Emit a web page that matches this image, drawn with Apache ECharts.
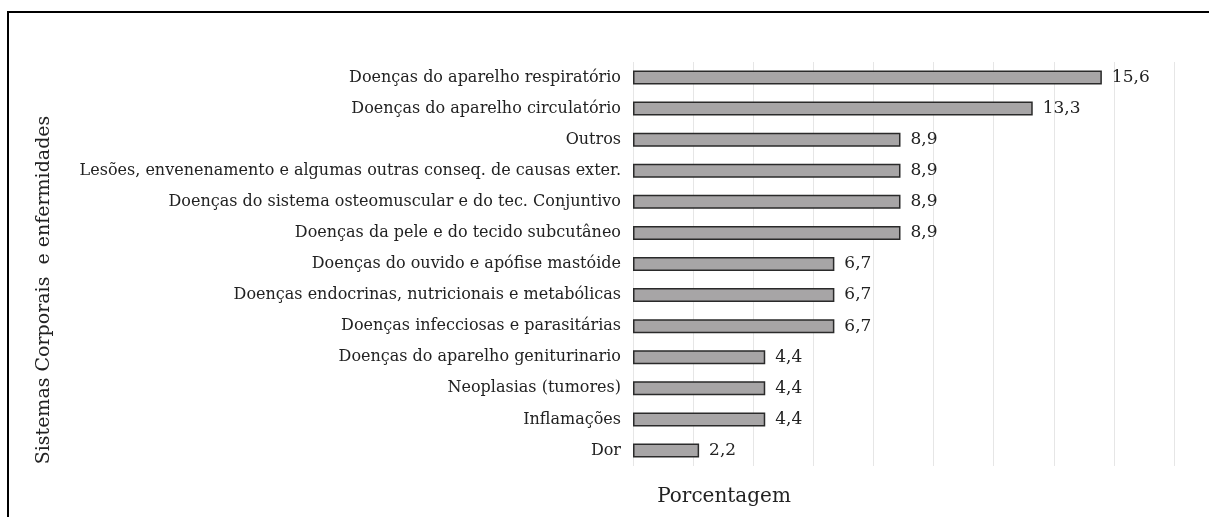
<!DOCTYPE html>
<html>
<head>
<meta charset="utf-8">
<script src="https://cdn.jsdelivr.net/npm/echarts@6/dist/echarts.min.js"></script>
<style>
html,body{margin:0;padding:0;background:#fff;}
#chart{width:1209px;height:517px;}
</style>
</head>
<body>
<div id="chart"></div>
<script>
const categories = [
  "Doenças do aparelho respiratório",
  "Doenças do aparelho circulatório",
  "Outros",
  "Lesões, envenenamento e algumas outras conseq. de causas exter.",
  "Doenças do sistema osteomuscular e do tec. Conjuntivo",
  "Doenças da pele e do tecido subcutâneo",
  "Doenças do ouvido e apófise mastóide",
  "Doenças endocrinas, nutricionais e metabólicas",
  "Doenças infecciosas e parasitárias",
  "Doenças do aparelho geniturinario",
  "Neoplasias (tumores)",
  "Inflamações",
  "Dor"
];
const values = [15.6, 13.3, 8.9, 8.9, 8.9, 8.9, 6.7, 6.7, 6.7, 4.4, 4.4, 4.4, 2.2];
const yTitle = "Sistemas Corporais  e enfermidades";
const xTitle = "Porcentagem";

const FONT = "'DejaVu Serif', 'Liberation Serif', serif";
const chart = echarts.init(document.getElementById('chart'), null, {renderer: 'canvas'});
chart.setOption({
  animation: false,
  backgroundColor: '#ffffff',
  grid: {left: 633, right: 35, top: 62, bottom: 51, containLabel: false},
  xAxis: {
    type: 'value', min: 0, max: 18, interval: 2,
    axisLine: {show: false}, axisTick: {show: false}, axisLabel: {show: false},
    splitLine: {show: true, lineStyle: {color: '#e6e6e6', width: 1}}
  },
  yAxis: {
    type: 'category', data: categories, inverse: true,
    axisLine: {show: false}, axisTick: {show: false},
    axisLabel: {color: '#222', fontFamily: FONT, fontSize: 16, margin: 12},
    splitLine: {show: false}
  },
  series: [{
    type: 'bar', data: values, barWidth: 14,
    itemStyle: {color: '#a7a5a6', borderColor: '#2a2a2a', borderWidth: 1.5},
    label: {
      show: true, position: 'right', distance: 10,
      color: '#222', fontFamily: FONT, fontSize: 17,
      formatter: p => String(p.value).replace('.', ',')
    }
  }],
  graphic: [
    {type: 'polyline', shape: {points: [[8, 517], [8, 12], [1209, 12]]},
     style: {stroke: '#000', lineWidth: 2, fill: null}, silent: true},
    {type: 'text', x: 44, y: 290, rotation: Math.PI / 2,
     style: {text: yTitle, fill: '#222', font: "19px 'DejaVu Serif', serif",
             textAlign: 'center', textVerticalAlign: 'middle'}},
    {type: 'text', x: 724, y: 497,
     style: {text: xTitle, fill: '#222', font: "20px 'DejaVu Serif', serif",
             textAlign: 'center', textVerticalAlign: 'middle'}}
  ]
});
</script>
</body>
</html>
